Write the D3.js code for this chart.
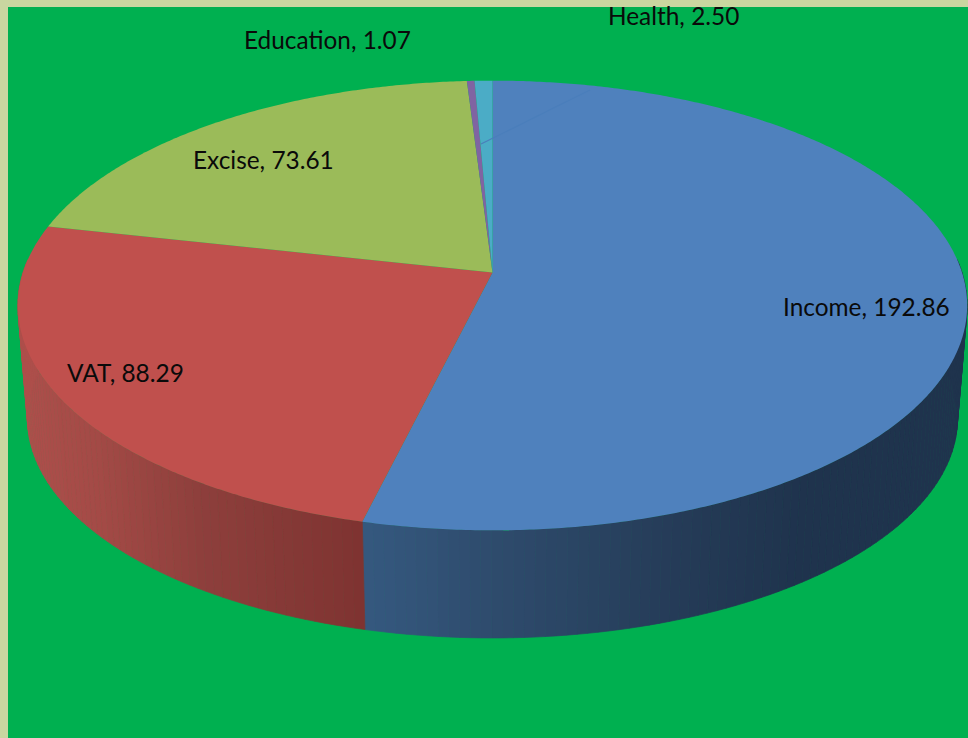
<!DOCTYPE html>
<html>
<head>
<meta charset="utf-8">
<script src="https://cdn.jsdelivr.net/npm/d3@7"></script>
<style>
  html, body { margin: 0; padding: 0; background: #c9d6a0; overflow: hidden; }
  svg { display: block; }
  text { font-family: Lato, "Open Sans", sans-serif; font-size: 24.4px; fill: #0a0a0a; }
</style>
</head>
<body>
<script>
const categories = ['Income', 'VAT', 'Excise', 'Education', 'Health'];
const values = [192.86, 88.29, 73.61, 1.07, 2.50];
const labelText = ['192.86', '88.29', '73.61', '1.07', '2.50'];

const w = 968;
const h = 738;
const colors = ['#4f81bd', '#c0504d', '#9bbb59', '#8064a2', '#4bacc6'];
// label anchors, same order as categories
const labelX = [783, 67, 193, 244, 608];
const labelY = [316, 382, 169, 49, 25];

// tilted disc seen in perspective: the pie centre sits above the ellipse centre
const cx = 492.5;
const persp = 0.1467;
const topRim = { y: 272.5, rx: 469.5, ry: 220 };
const bottomRim = { y: 386, rx: 460, ry: 215 };

function project(angle, rim) {
  const u = Math.sin(angle);
  const v = -Math.cos(angle);
  const k = 1 - persp * v;
  return [cx + rim.rx * u / k, rim.y + rim.ry * v / k];
}

function rimPoints(d, rim) {
  const steps = Math.max(2, Math.ceil((d.endAngle - d.startAngle) * 120));
  return d3.range(steps + 1).map(i => project(d.startAngle + (d.endAngle - d.startAngle) * i / steps, rim));
}

const pie = d3.pie().sort(null).value(d => d);
const slices = pie(values);
const line = d3.line();

const svg = d3.select('body').append('svg')
  .attr('width', w)
  .attr('height', h);

svg.append('rect')
  .attr('x', 8)
  .attr('y', 7)
  .attr('width', w - 8)
  .attr('height', h - 7)
  .attr('fill', '#00b050');

// wall shade depends on screen x, Income then VAT
const wallShade = [
  d3.scaleLinear().domain([365, 500, 680, 800]).range(['#35587f', '#2e4b6c', '#253b57', '#1f334d']).clamp(true),
  d3.scaleLinear().domain([25, 100, 200, 365]).range(['#ad4f4b', '#a34a46', '#8e3f3c', '#7e3331']).clamp(true)
];

// wall is built from narrow strips so the outer silhouette stays right
const stripStep = 0.02;
const strips = [];
slices.slice(0, 2).forEach((d, i) => {
  const n = Math.ceil((d.endAngle - d.startAngle) / stripStep);
  d3.range(n).forEach(j => {
    const a0 = d.startAngle + (d.endAngle - d.startAngle) * j / n;
    const a1 = d.startAngle + (d.endAngle - d.startAngle) * (j + 1) / n;
    // back half is hidden behind the top face
    if (Math.cos((a0 + a1) / 2) < 0.05) strips.push({ a0, a1, i });
  });
});

svg.selectAll('path.wall')
  .data(strips)
  .enter()
  .append('path')
  .attr('class', 'wall')
  .each(function (d) {
    const pts = [project(d.a0, topRim), project(d.a1, topRim), project(d.a1, bottomRim), project(d.a0, bottomRim)];
    const shade = wallShade[d.i](d3.mean(pts, p => p[0]));
    d3.select(this)
      .attr('d', line(pts) + 'Z')
      .attr('fill', shade)
      .attr('stroke', shade)
      .attr('stroke-width', 0.7);
  });

svg.selectAll('path.slice')
  .data(slices)
  .enter()
  .append('path')
  .attr('class', 'slice')
  .attr('fill', (d, i) => colors[i])
  .attr('d', d => line([[cx, topRim.y]].concat(rimPoints(d, topRim))) + 'Z');

// leader line for the Health label
svg.append('line')
  .attr('x1', 481)
  .attr('y1', 144)
  .attr('x2', 590)
  .attr('y2', 90)
  .attr('stroke', '#4a7ebb')
  .attr('stroke-width', 1.2);

svg.selectAll('text')
  .data(categories)
  .enter()
  .append('text')
  .attr('x', (d, i) => labelX[i])
  .attr('y', (d, i) => labelY[i])
  .text((d, i) => `${d}, ${labelText[i]}`);
</script>
</body>
</html>
